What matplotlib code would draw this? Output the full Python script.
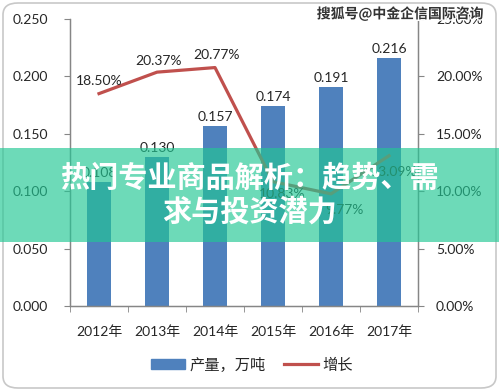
import matplotlib
matplotlib.use("Agg")
import matplotlib.pyplot as plt
import matplotlib.patheffects as pe
from matplotlib.patches import FancyBboxPatch, Rectangle
from matplotlib.ticker import FuncFormatter, FixedLocator
import numpy as np

plt.rcParams['font.family'] = ['Lato', 'Noto Sans CJK SC', 'DejaVu Sans']

# data
years = ['2012年', '2013年', '2014年', '2015年', '2016年', '2017年']
output = [0.108, 0.130, 0.157, 0.174, 0.191, 0.216]
growth = [18.50, 20.37, 20.77, 10.83, 9.77, 13.09]
# offsets (pixels) of each growth label relative to its point
growth_label_offsets = [(0, 13), (2, 11), (2, 13), (9, -12), (13, -16), (5, -16)]

bar_color = '#4F81BD'
line_color = '#C0504D'
axis_color = '#868686'
text_color = '#262626'

fig = plt.figure(figsize=(4.99, 3.91), dpi=100)
ax = fig.add_axes([70 / 499, 1 - 306 / 391, 348 / 499, 287 / 391])
ax2 = ax.twinx()

x = np.arange(len(years))
ax.bar(x, output, width=0.4, color=bar_color, zorder=2)
for xi, v in zip(x, output):
    ax.annotate('%.3f' % v, (xi, v), xytext=(0, 3), textcoords='offset pixels',
                ha='center', va='bottom', fontsize=10, color=text_color)

ax.set_xlim(-0.5, len(years) - 0.5)
ax.set_ylim(0, 0.25)
ax.set_yticks(np.arange(0, 0.251, 0.05))
ax.yaxis.set_major_formatter(FuncFormatter(lambda v, p: '%.3f' % v))
ax.set_xticks(x)
ax.set_xticklabels(years)
ax.xaxis.set_minor_locator(FixedLocator(np.arange(-0.5, len(years), 1.0)))
ax.tick_params(axis='x', which='major', length=0, pad=14, labelsize=10, labelcolor=text_color)
ax.tick_params(axis='x', which='minor', length=4, color=axis_color)
ax.tick_params(axis='y', length=4, color=axis_color, pad=12, labelsize=10, labelcolor=text_color)

ax2.plot(x, growth, color=line_color, lw=2.3, zorder=3)
for xi, g, off in zip(x, growth, growth_label_offsets):
    ax2.annotate('%.2f%%' % g, (xi, g), xytext=off, textcoords='offset pixels',
                 ha='center', va='center', fontsize=10, color=text_color)
ax2.set_ylim(0, 25)
ax2.set_yticks(np.arange(0, 25.1, 5))
ax2.yaxis.set_major_formatter(FuncFormatter(lambda v, p: '%.2f%%' % v))
ax2.tick_params(axis='y', length=4, color=axis_color, pad=9, labelsize=10, labelcolor=text_color)

for a in (ax, ax2):
    a.spines['top'].set_visible(False)
    for s in ('left', 'right', 'bottom'):
        a.spines[s].set_color(axis_color)
        a.spines[s].set_linewidth(0.9)

# legend
h1 = Rectangle((0, 0), 1, 1, color=bar_color)
h2, = ax.plot([], [], color=line_color, lw=2.3)
fig.legend([h1, h2], ['产量，万吨', '增长'], loc='center', ncol=2,
           bbox_to_anchor=(252 / 499, 1 - 365 / 391), frameon=False,
           fontsize=11, handlelength=2.2, handleheight=0.6, columnspacing=1.2,
           handletextpad=0.3, labelcolor=text_color)

# rounded outer border
fig.add_artist(FancyBboxPatch((3 / 499, 3 / 391), 493 / 499, 385 / 391,
                              boxstyle='round,pad=0,rounding_size=0.03',
                              transform=fig.transFigure, fill=False,
                              edgecolor='#C8C8C8', lw=1.2, zorder=5))

# watermark
fig.text(400 / 499, 1 - 14 / 391, '搜狐号@中金企信国际咨询', ha='center', va='center',
         fontsize=10, color='#333333', fontweight='bold',
         family=['Noto Sans CJK SC', 'DejaVu Sans'],
         path_effects=[pe.withStroke(linewidth=2, foreground='white')], zorder=6)

# green banner with headline
fig.add_artist(Rectangle((0, 1 - 242 / 391), 1, 94 / 391, transform=fig.transFigure,
                         facecolor='#22C794', alpha=0.66, edgecolor='none', zorder=10))
fig.text(0.5, 1 - 178 / 391, '热门专业商品解析：趋势、需', ha='center', va='center',
         fontsize=21, color='white', fontweight='bold',
         family=['Noto Sans CJK SC', 'DejaVu Sans'], zorder=11)
fig.text(0.5, 1 - 212 / 391, '求与投资潜力', ha='center', va='center',
         fontsize=21, color='white', fontweight='bold',
         family=['Noto Sans CJK SC', 'DejaVu Sans'], zorder=11)

fig.savefig('out.png', dpi=100)
